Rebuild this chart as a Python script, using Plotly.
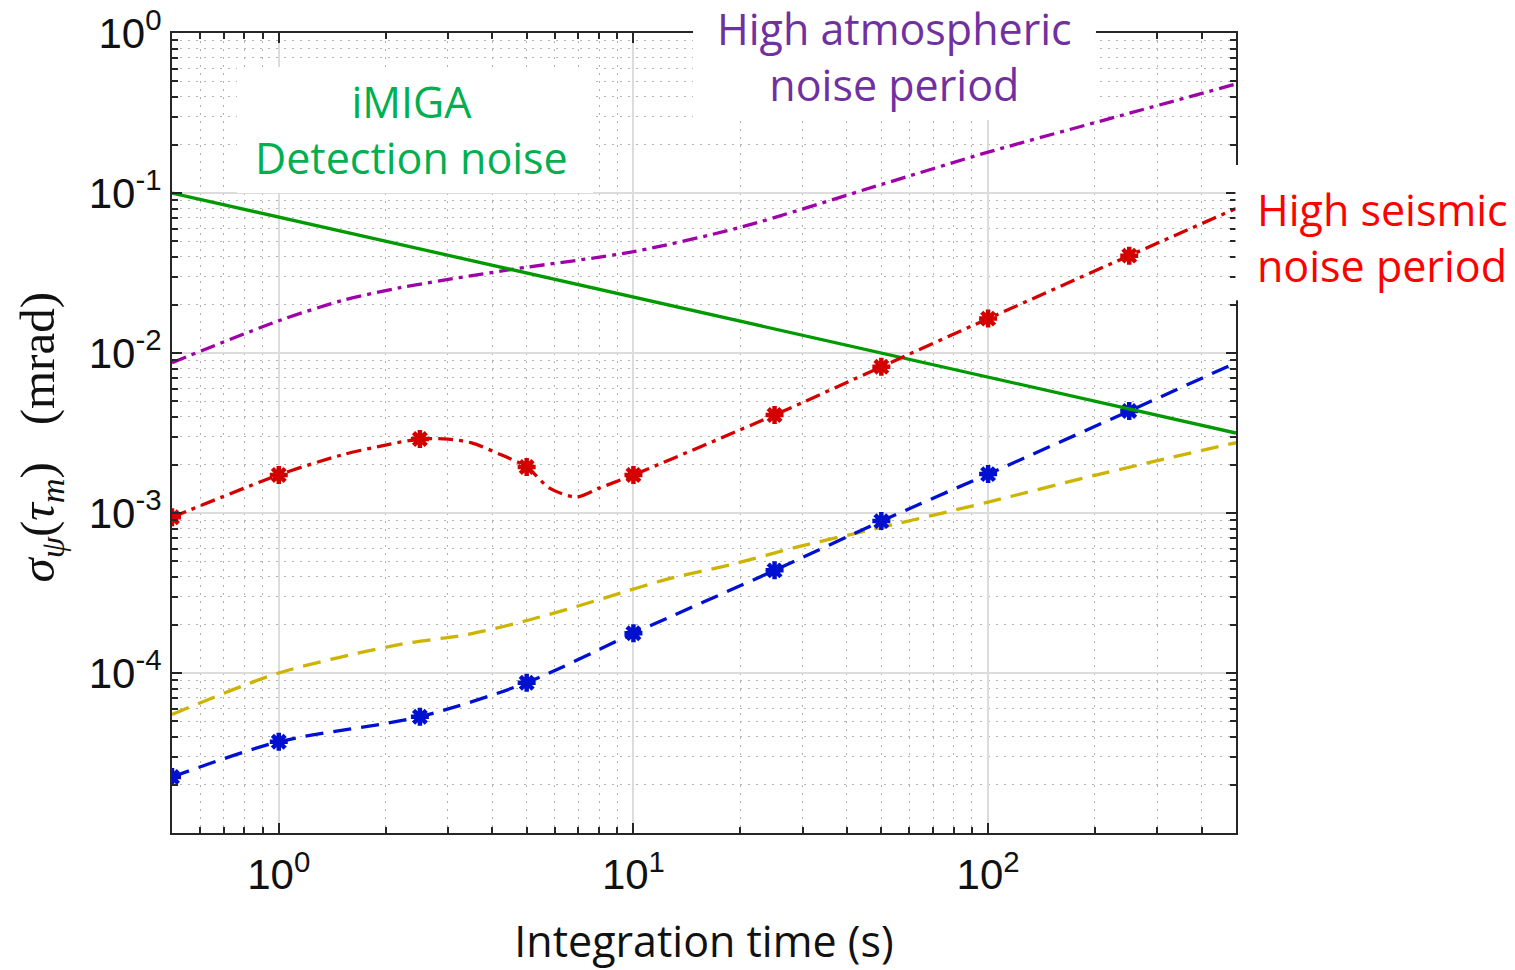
import plotly.graph_objects as go
import numpy as np

# ---------------- data ----------------
t_marks = [0.5, 1, 2.5, 5, 10, 25, 50, 100, 250]

# High seismic noise period (red, dash-dot, star markers)
seismic_marks = [0.94e-3, 1.73e-3, 2.9e-3, 1.94e-3, 1.73e-3, 4.1e-3, 8.2e-3, 0.0164, 0.0406]
t_seismic_line = [0.5, 1, 1.5, 2, 2.5, 3.0, 3.5, 4.2, 5, 5.8, 6.9, 8, 10, 25, 50, 100, 250, 500]
seismic_line = [0.94e-3, 1.73e-3, 2.3e-3, 2.66e-3, 2.9e-3, 2.9e-3, 2.74e-3, 2.33e-3, 1.94e-3,
                1.43e-3, 1.26e-3, 1.43e-3, 1.73e-3, 4.1e-3, 8.2e-3, 0.0164, 0.0406, 0.080]

# Low noise period (blue, dashed, star markers)
quiet_marks = [2.24e-5, 3.72e-5, 5.33e-5, 8.7e-5, 1.77e-4, 4.38e-4, 8.9e-4, 1.75e-3, 4.34e-3]
t_quiet_line = [0.5, 1, 2.5, 5, 10, 25, 50, 100, 250, 500]
quiet_line = [2.24e-5, 3.72e-5, 5.33e-5, 8.7e-5, 1.77e-4, 4.38e-4, 8.9e-4, 1.75e-3, 4.34e-3, 8.7e-3]

# Yellow dashed curve
t_yellow = [0.5, 1, 2.2, 3.4, 4.9, 6.9, 8.4, 12.4, 19, 29.4, 45, 100, 200, 500]
yellow = [5.5e-5, 1.0e-4, 1.51e-4, 1.74e-4, 2.1e-4, 2.6e-4, 2.97e-4, 3.85e-4, 4.78e-4,
          6.19e-4, 7.7e-4, 1.17e-3, 1.72e-3, 2.75e-3]

# High atmospheric noise period (purple, dash-dot)
t_atmo = [0.5, 1, 1.5, 2.2, 4.5, 10, 20, 50, 100, 250, 500]
atmo = [8.7e-3, 0.0159, 0.0212, 0.0256, 0.0332, 0.043, 0.061, 0.113, 0.18, 0.315, 0.48]

# iMIGA detection noise (green, solid)
t_det = [0.5, 500]
det = [0.1, 0.00316]

x_tickvals = [1, 10, 100]
x_ticktext = ["10<sup>0</sup>", "10<sup>1</sup>", "10<sup>2</sup>"]
y_tickvals = [1e-4, 1e-3, 1e-2, 1e-1, 1]
y_ticktext = ["10<sup>-4</sup>", "10<sup>-3</sup>", "10<sup>-2</sup>", "10<sup>-1</sup>", "10<sup>0</sup>"]

# ---------------- styles ----------------
RED = "#d40000"
BLUE = "#0010d0"
YELLOW = "#ccb400"
PURPLE = "#a000a8"
GREEN = "#009a00"
DASH = "18px,10px"
DASHDOT = "15px,6px,4px,6px"
LW = 3.3

fig = go.Figure()

fig.add_trace(go.Scatter(x=t_yellow, y=yellow, mode="lines", name="yellow",
                         line=dict(color=YELLOW, width=LW, dash=DASH, shape="spline", smoothing=0.8)))
fig.add_trace(go.Scatter(x=t_quiet_line, y=quiet_line, mode="lines", name="quiet",
                         line=dict(color=BLUE, width=LW, dash=DASH, shape="spline", smoothing=0.8)))
fig.add_trace(go.Scatter(x=t_marks, y=quiet_marks, mode="markers", name="quiet pts",
                         marker=dict(symbol="asterisk", size=15, line=dict(color=BLUE, width=4.5))))
fig.add_trace(go.Scatter(x=t_atmo, y=atmo, mode="lines", name="atmo",
                         line=dict(color=PURPLE, width=LW, dash=DASHDOT, shape="spline", smoothing=0.8)))
fig.add_trace(go.Scatter(x=t_det, y=det, mode="lines", name="detection",
                         line=dict(color=GREEN, width=LW)))
fig.add_trace(go.Scatter(x=t_seismic_line, y=seismic_line, mode="lines", name="seismic",
                         line=dict(color=RED, width=LW, dash=DASHDOT, shape="spline", smoothing=0.8)))
fig.add_trace(go.Scatter(x=t_marks, y=seismic_marks, mode="markers", name="seismic pts",
                         marker=dict(symbol="asterisk", size=15, line=dict(color=RED, width=4.5))))

# minor tick positions (2..9 x 10^k)
x_minor = [m * 10.0 ** k for k in range(-1, 3) for m in range(2, 10) if 0.5 < m * 10.0 ** k < 500]
y_minor = [m * 10.0 ** k for k in range(-5, 0) for m in range(2, 10)]

AXC = "#262626"
common = dict(type="log", showline=True, linecolor=AXC, linewidth=2, mirror="allticks",
              ticks="inside", ticklen=10, tickwidth=1.5, tickcolor=AXC, automargin=False,
              showgrid=True, gridcolor="#dcdcdc", gridwidth=1.5, zeroline=False,
              tickfont=dict(family="Liberation Sans, Arial", size=42, color="#111111"))

fig.update_xaxes(range=[np.log10(0.5), np.log10(500)], tickvals=x_tickvals, ticktext=x_ticktext,
                 ticklabelstandoff=4,
                 minor=dict(tickvals=x_minor, ticks="inside", ticklen=6, tickcolor=AXC, tickwidth=1.5,
                            showgrid=True, gridcolor="#b4b4b4", gridwidth=1, griddash="2px,6px"),
                 title=dict(text="Integration time (s)", standoff=36,
                            font=dict(family="Open Sans", size=43, color="#111111")),
                 **common)
fig.update_yaxes(range=[-5, 0], tickvals=y_tickvals, ticktext=y_ticktext,
                 minor=dict(tickvals=y_minor, ticks="inside", ticklen=6, tickcolor=AXC, tickwidth=1.5,
                            showgrid=True, gridcolor="#b4b4b4", gridwidth=1, griddash="2px,6px"),
                 **common)

# y-axis title placed as rotated text left of the tick labels
fig.add_annotation(text="<i>σ</i><sub><i>ψ</i></sub>(<i>τ</i><sub><i>m</i></sub>)\u00a0\u00a0\u00a0(mrad)",
                   x=-0.1245, y=0.495, xref="paper", yref="paper", xanchor="center", yanchor="middle",
                   textangle=-90, showarrow=False,
                   font=dict(family="Liberation Serif", size=49, color="#111111"))

# white boxes behind the labels (as in the reference)
boxes = [(0.0611, 0.3957, 0.80, 0.9575), (0.4897, 0.8684, 0.89125, 1.045), (0.9995, 1.27, 0.666, 0.835)]
for x0, x1, y0, y1 in boxes:
    fig.add_shape(type="rect", xref="paper", yref="paper", x0=x0, x1=x1, y0=y0, y1=y1,
                  fillcolor="white", line=dict(width=0), layer="above")

LF = "Open Sans"
labels = [
    ("iMIGA<br>Detection noise", 0.2255, 0.88, "center", "#00b050"),
    ("High atmospheric<br>noise period", 0.6795, 0.9705, "center", "#7030a0"),
    ("High seismic<br>noise period", 1.019, 0.745, "left", "#ff0000"),
]
for txt, x, y, xa, col in labels:
    fig.add_annotation(text=txt, x=x, y=y, xref="paper", yref="paper", xanchor=xa, yanchor="middle",
                       align=xa, showarrow=False, borderpad=0, font=dict(family=LF, size=43, color=col))

fig.update_layout(width=1515, height=970, margin=dict(l=172, r=279, t=33, b=137, autoexpand=False),
                  plot_bgcolor="white", paper_bgcolor="white", showlegend=False)

fig.write_html("out.html")
